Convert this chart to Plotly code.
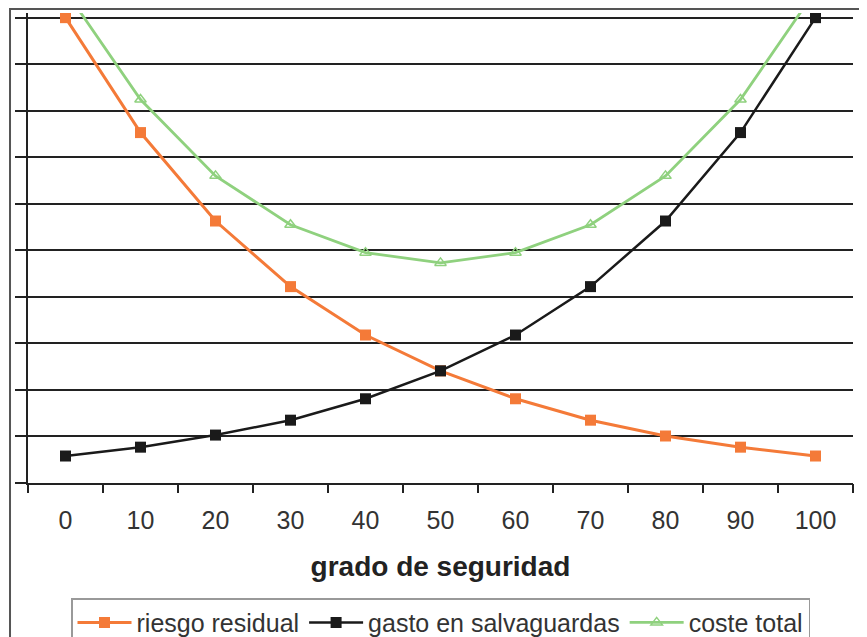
import plotly.graph_objects as go

grado = [0, 10, 20, 30, 40, 50, 60, 70, 80, 90, 100]
riesgo_residual = [10.0, 7.53, 5.63, 4.22, 3.18, 2.41, 1.81, 1.35, 1.01, 0.77, 0.58]
gasto_salvaguardas = [0.58, 0.77, 1.03, 1.35, 1.81, 2.41, 3.18, 4.22, 5.63, 7.53, 10.0]
coste_total = [10.58, 8.24, 6.60, 5.55, 4.95, 4.73, 4.95, 5.55, 6.60, 8.24, 10.58]
x_tick_labels = [str(v) for v in grado]
separators = [-5, 5, 15, 25, 35, 45, 55, 65, 75, 85, 95, 105]

ORANGE = "#F47A38"
BLACK = "#1a1a1a"
GREEN = "#8FD17E"
FONT = "Liberation Sans, Arial, sans-serif"

fig = go.Figure()
fig.add_trace(go.Scatter(
    x=grado, y=riesgo_residual, name="riesgo residual", mode="lines+markers",
    line=dict(color=ORANGE, width=3),
    marker=dict(symbol="square", size=11, color=ORANGE),
))
fig.add_trace(go.Scatter(
    x=grado, y=gasto_salvaguardas, name="gasto en salvaguardas", mode="lines+markers",
    line=dict(color=BLACK, width=2.5),
    marker=dict(symbol="square", size=11, color=BLACK),
))
fig.add_trace(go.Scatter(
    x=grado, y=coste_total, name="coste total", mode="lines+markers",
    line=dict(color=GREEN, width=2.8),
    marker=dict(symbol="triangle-up-open", size=10, color=GREEN, line=dict(width=1.5, color=GREEN)),
))
# invisible trace carrying the category separator ticks
fig.add_trace(go.Scatter(x=[], y=[], xaxis="x2", showlegend=False))

fig.update_layout(
    width=859, height=629,
    margin=dict(l=20, r=14, t=5, b=154, autoexpand=False),
    paper_bgcolor="white", plot_bgcolor="white",
    font=dict(family=FONT, color="#333333"),
    showlegend=True,
    legend=dict(
        orientation="h", x=0.5, xanchor="center", y=-0.245, yanchor="top",
        font=dict(size=25, family=FONT, color="#333333"),
        bordercolor="#999999", borderwidth=1.5, bgcolor="white",
        itemwidth=54, tracegroupgap=0,
    ),
    xaxis=dict(
        range=[-5, 105], tickmode="array", tickvals=grado, ticktext=x_tick_labels,
        ticks="", showgrid=False, zeroline=False, automargin=False,
        showline=True, linecolor="#222222", linewidth=1.5,
        tickfont=dict(size=25, family=FONT, color="#333333"),
        ticklabelstandoff=14,
        title=dict(text="<b>grado de seguridad</b>", font=dict(size=28, family=FONT, color="#222222"), standoff=24),
    ),
    xaxis2=dict(
        overlaying="x", range=[-5, 105], tickmode="array", tickvals=separators,
        ticktext=[""] * len(separators), ticks="outside", ticklen=9, tickwidth=1.5,
        tickcolor="#222222", showgrid=False, zeroline=False, showline=False, side="bottom",
        anchor="y", automargin=False,
    ),
    yaxis=dict(
        range=[0, 10.1], tickmode="linear", tick0=0, dtick=1, automargin=False,
        showticklabels=False, ticks="outside", ticklen=11, tickwidth=1.5, tickcolor="#222222",
        showgrid=True, gridcolor="#222222", gridwidth=1.5,
        zeroline=False, showline=True, linecolor="#222222", linewidth=1.5,
    ),
    shapes=[dict(
        type="rect", xref="paper", yref="paper",
        x0=-0.0218, x1=1.2, y0=-0.6, y1=1.0085,
        line=dict(color="#555555", width=2), fillcolor="rgba(0,0,0,0)", layer="below",
    )],
)

fig.write_html("out.html")
